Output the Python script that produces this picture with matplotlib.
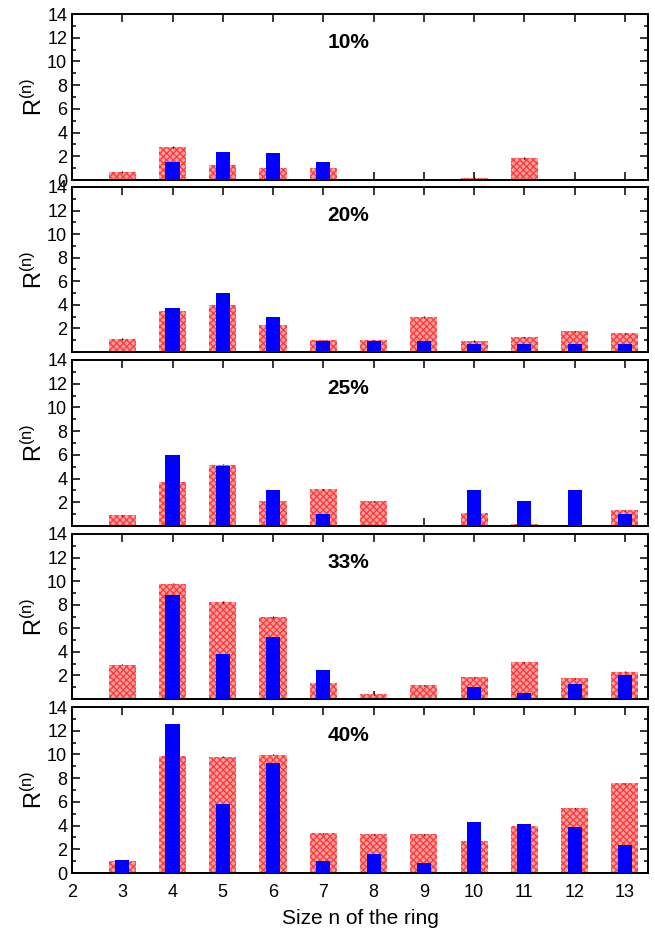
import numpy as np
import matplotlib
matplotlib.use("Agg")
import matplotlib.pyplot as plt
from matplotlib.ticker import MultipleLocator

plt.rcParams['font.family'] = ['Liberation Sans', 'DejaVu Sans']
plt.rcParams['hatch.linewidth'] = 1.0

n = [3, 4, 5, 6, 7, 8, 9, 10, 11, 12, 13]
labels = ['10%', '20%', '25%', '33%', '40%']

# red (wide, hatched) bars
red = [
    [0.67, 2.78, 1.27, 1.01, 1.01, 0.05, 0.05, 0.17, 1.86, 0.05, 0.0],
    [1.09, 3.50, 4.00, 2.26, 1.00, 1.00, 3.00, 0.92, 1.25, 1.75, 1.59],
    [0.90, 3.67, 5.18, 2.07, 3.08, 2.07, 0.0, 1.06, 0.20, 0.0, 1.32],
    [2.92, 9.80, 8.23, 6.97, 1.32, 0.39, 1.15, 1.83, 3.12, 1.74, 2.33],
    [0.98, 9.90, 9.82, 9.99, 3.34, 3.25, 3.25, 2.67, 3.93, 5.44, 7.55],
]
# blue (narrow) bars
blue = [
    [0.0, 1.55, 2.33, 2.30, 1.55, 0.0, 0.0, 0.0, 0.0, 0.0, 0.0],
    [0.0, 3.73, 5.00, 3.00, 0.95, 0.95, 0.95, 0.72, 0.72, 0.72, 0.72],
    [0.0, 6.02, 5.10, 3.05, 0.98, 0.0, 0.0, 3.05, 2.07, 3.05, 0.98],
    [0.0, 8.79, 3.79, 5.25, 2.50, 0.0, 0.0, 0.98, 0.48, 1.24, 2.00],
    [1.07, 12.57, 5.84, 9.30, 1.04, 1.57, 0.81, 4.29, 4.10, 3.84, 2.36],
]

W, H = 655, 930
fig = plt.figure(figsize=(W / 100, H / 100), dpi=100)

# panel tops/bottoms in pixels
tops = [14, 187, 360, 534, 707]
bots = [180, 352, 526, 699, 873]
left, right = 72, 648

for i in range(5):
    ax = fig.add_axes([left / W, 1 - bots[i] / H, (right - left) / W, (bots[i] - tops[i]) / H])
    r = np.array(red[i])
    b = np.array(blue[i])
    ax.bar(n, r, width=0.54, facecolor='#ffa3a3', edgecolor='#ff3c3c',
           hatch='xxxxx', linewidth=0, zorder=2)
    mask = r > 0.1
    ax.errorbar(np.array(n)[mask], r[mask], yerr=0.06, fmt='none',
                ecolor='black', elinewidth=1.0, zorder=3)
    ax.bar(n, b, width=0.28, color='#0000ff', linewidth=0, zorder=4)

    ax.set_xlim(2, 13.46)
    ax.set_ylim(0, 14)
    ax.xaxis.set_major_locator(MultipleLocator(1))
    ax.yaxis.set_major_locator(MultipleLocator(2))
    ax.yaxis.set_minor_locator(MultipleLocator(1))
    ax.tick_params(which='both', direction='in', top=True, right=True,
                   labelsize=13, width=1.1)
    ax.tick_params(which='major', length=6)
    ax.tick_params(which='minor', length=3)
    ax.tick_params(axis='x', which='minor', bottom=False, top=False)
    ax.tick_params(axis='x', pad=8)
    for sp in ax.spines.values():
        sp.set_linewidth(1.4)

    ax.text(7.5, 11.6, labels[i], ha='center', va='center',
            fontsize=15, fontweight='bold')
    ax.set_ylabel(r'$\mathregular{R^{(n)}}$', fontsize=17, labelpad=0)

    if i < 4:
        ax.set_xticklabels([])
        if i > 0:
            ax.set_yticks([2, 4, 6, 8, 10, 12, 14])
    else:
        ax.set_xlabel('Size n of the ring', fontsize=15, labelpad=6)

fig.savefig('out.png', dpi=100)
